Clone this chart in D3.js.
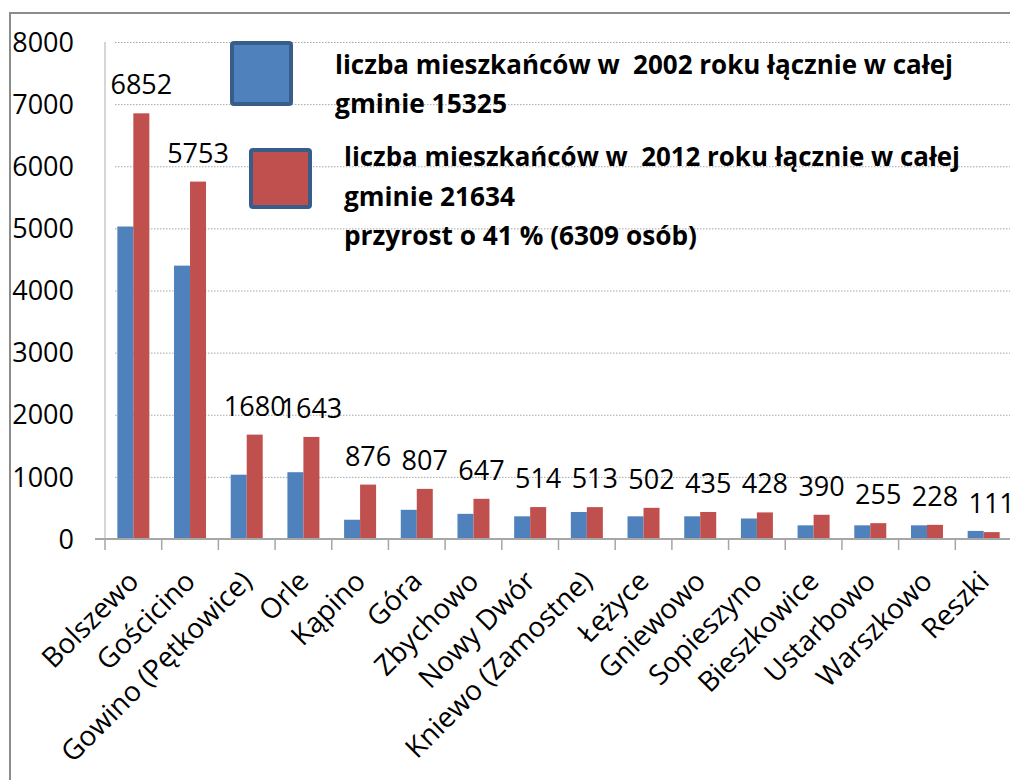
<!DOCTYPE html>
<html>
<head>
<meta charset="utf-8">
<script src="https://cdn.jsdelivr.net/npm/d3@7"></script>
<style>
  body { margin: 0; background: #fff; }
  svg { display: block; font-family: "Open Sans", sans-serif; }
  .grid line { stroke: #a6a6a6; stroke-dasharray: 1.5 1.5; }
  .grid .domain { display: none; }
</style>
</head>
<body>
<div id="chart"></div>
<script>
// data
const villages = ["Bolszewo", "Gościcino", "Gowino (Pętkowice)", "Orle", "Kąpino", "Góra", "Zbychowo",
  "Nowy Dwór", "Kniewo (Zamostne)", "Łężyce", "Gniewowo", "Sopieszyno", "Bieszkowice", "Ustarbowo",
  "Warszkowo", "Reszki"];
const pop2002 = [5030, 4400, 1035, 1075, 310, 470, 405, 365, 435, 365, 365, 330, 220, 220, 220, 130];
const pop2012 = [6852, 5753, 1680, 1643, 876, 807, 647, 514, 513, 502, 435, 428, 390, 255, 228, 111];
const yTicks = [0, 1000, 2000, 3000, 4000, 5000, 6000, 7000, 8000];
const seriesNames = ["2002", "2012"];
const seriesColors = ["#4f81bd", "#c0504d"];
const legendLines = [
  ["liczba mieszkańców w  2002 roku łącznie w całej", "gminie 15325"],
  ["liczba mieszkańców w  2012 roku łącznie w całej", "gminie 21634", "przyrost o 41 % (6309 osób)"]
];

const W = 1010, H = 780;
const plot = {left: 105, right: 1012, top: 42, bottom: 539};

const svg = d3.select("#chart")
  .append("svg")
    .attr("width", W)
    .attr("height", H);

// outer frame (top + left border of the pasted chart)
svg.append("path")
  .attr("d", `M10,${H} V13 H${W}`)
  .attr("fill", "none")
  .attr("stroke", "#8c8c8c")
  .attr("stroke-width", 2);

const x = d3.scaleBand()
  .domain(villages)
  .range([plot.left, plot.right]);

const groupW = 32;
const x1 = d3.scaleBand()
  .domain(seriesNames)
  .range([0, groupW]);

const y = d3.scaleLinear()
  .domain([0, 8000])
  .range([plot.bottom, plot.top]);

// horizontal grid lines
svg.append("g")
    .attr("class", "grid")
    .attr("transform", `translate(${plot.left}, 0)`)
  .call(d3.axisLeft(y)
    .tickValues(yTicks.filter(d => d > 0))
    .tickSize(-(W - plot.left) - 10)
    .tickFormat(""))
  .call(g => g.selectAll("line").attr("x1", 10));

// y tick labels
svg.append("g")
  .selectAll("text")
  .data(yTicks)
  .join("text")
    .attr("x", 74)
    .attr("y", d => y(d))
    .attr("dy", "0.36em")
    .attr("text-anchor", "end")
    .attr("font-size", 27)
    .attr("fill", "#000")
    .text(d => d);

// vertical axis line
svg.append("line")
  .attr("x1", plot.left).attr("x2", plot.left)
  .attr("y1", plot.top).attr("y2", plot.bottom)
  .attr("stroke", "#c8c8c8")
  .attr("stroke-width", 1.5);

// bars
const groups = svg.append("g")
  .selectAll("g")
  .data(villages)
  .join("g")
    .attr("transform", d => `translate(${x(d) + (x.bandwidth() - groupW) / 2}, 0)`);

groups.selectAll("rect")
  .data((d, i) => [pop2002[i], pop2012[i]].map((v, k) => ({s: seriesNames[k], v, k})))
  .join("rect")
    .attr("x", d => x1(d.s))
    .attr("y", d => y(d.v))
    .attr("width", x1.bandwidth())
    .attr("height", d => y(0) - y(d.v))
    .attr("fill", d => seriesColors[d.k]);

// x axis line and ticks
svg.append("line")
  .attr("x1", plot.left - 10).attr("x2", W)
  .attr("y1", plot.bottom).attr("y2", plot.bottom)
  .attr("stroke", "#a6a6a6")
  .attr("stroke-width", 2);

svg.append("g")
  .selectAll("line")
  .data(villages.map(d => x(d)).concat([plot.right]))
  .join("line")
    .attr("x1", d => d).attr("x2", d => d)
    .attr("y1", plot.bottom).attr("y2", plot.bottom + 11)
    .attr("stroke", "#a6a6a6")
    .attr("stroke-width", 1.5);

// value labels for 2012
svg.append("g")
  .selectAll("text")
  .data(villages)
  .join("text")
    .attr("x", d => x(d) + (x.bandwidth() - groupW) / 2 + x1("2012") + x1.bandwidth() / 2)
    .attr("y", (d, i) => y(pop2012[i]) - 19)
    .attr("text-anchor", "middle")
    .attr("font-size", 27)
    .attr("fill", "#000")
    .text((d, i) => pop2012[i]);

// category labels, rotated
svg.append("g")
  .selectAll("text")
  .data(villages)
  .join("text")
    .attr("transform", d => `translate(${x(d) + x.bandwidth() / 2 + 7}, 583) rotate(-45)`)
    .attr("text-anchor", "end")
    .attr("font-size", 28)
    .attr("fill", "#000")
    .text(d => d);

// legend
const legendBoxes = [
  {x: 232, y: 43, w: 59, h: 61},
  {x: 251, y: 150, w: 59, h: 57}
];
const legendText = [
  {x: 335, ys: [74, 113], w: [618, 172]},
  {x: 344, ys: [166, 206, 245], w: [616, 171, 353]}
];

legendBoxes.forEach((b, i) => {
  svg.append("rect")
    .attr("x", b.x).attr("y", b.y)
    .attr("width", b.w).attr("height", b.h)
    .attr("rx", 2)
    .attr("fill", seriesColors[i])
    .attr("stroke", "#385d8a")
    .attr("stroke-width", 4);

  legendLines[i].forEach((line, j) => {
    svg.append("text")
      .attr("x", legendText[i].x)
      .attr("y", legendText[i].ys[j])
      .attr("font-size", 27)
      .attr("font-weight", "bold")
      .attr("fill", "#000")
      .attr("textLength", legendText[i].w[j])
      .attr("lengthAdjust", "spacingAndGlyphs")
      .style("white-space", "pre")
      .text(line);
  });
});
</script>
</body>
</html>
